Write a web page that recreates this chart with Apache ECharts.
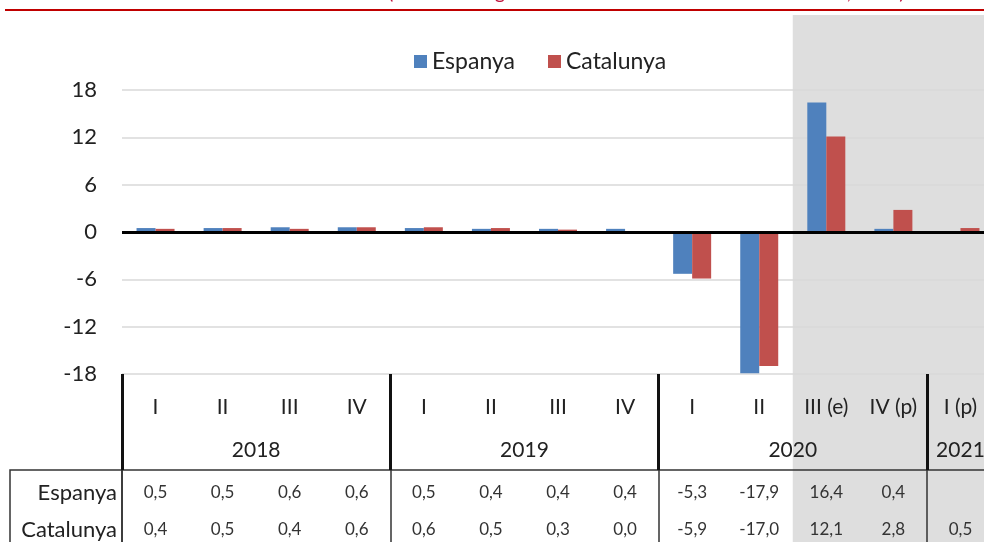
<!DOCTYPE html>
<html>
<head>
<meta charset="utf-8">
<script src="https://cdn.jsdelivr.net/npm/echarts@6/dist/echarts.min.js"></script>
<style>
  html, body { margin: 0; padding: 0; background: #fff; overflow: hidden; }
  #mycontainer { width: 1000px; height: 542px; }
</style>
</head>
<body>
<div id="mycontainer"></div>
<script>
// trimestres i anys
var quarters = ['I', 'II', 'III', 'IV', 'I', 'II', 'III', 'IV', 'I', 'II', 'III (e)', 'IV (p)', 'I (p)'];
var years = ['2018', '2019', '2020', '2021'];
var yearStart = [0, 4, 8, 12];   // primer trimestre de cada any
var yearLen = [4, 4, 4, 1];

// variació intertrimestral (%)
var espanya = [0.5, 0.5, 0.6, 0.6, 0.5, 0.4, 0.4, 0.4, -5.3, -17.9, 16.4, 0.4, null];
var catalunya = [0.4, 0.5, 0.4, 0.6, 0.6, 0.5, 0.3, 0.0, -5.9, -17.0, 12.1, 2.8, 0.5];

var firstEstimate = 10; // III (e): a partir d'aqui, zona ombrejada

var FONT = 'Lato, "Open Sans", sans-serif';

function fmt(v) {
    if (v === null || v === undefined) return '';
    return v.toFixed(1).replace('.', ',');
}

var yearCenters = yearStart.map(function (s, i) { return s + yearLen[i] / 2; });
var yearBounds = yearStart.concat([quarters.length]);

var dom = document.getElementById('mycontainer');
var chart = echarts.init(dom, null, { renderer: 'canvas' });

var option = {
    animation: false,
    textStyle: { fontFamily: FONT },
    title: {
        text: 'PIB. Taxa de variació intertrimestral (dades corregides d\'efectes estacionals i de calendari, en %)',
        left: 484,
        textAlign: 'center',
        top: -22,
        textStyle: { color: '#c0143c', fontSize: 20, fontWeight: 'normal', fontFamily: FONT }
    },
    legend: {
        left: 409,
        top: 45,
        itemWidth: 13,
        itemHeight: 13,
        itemGap: 33,
        icon: 'rect',
        textStyle: { fontSize: 23, color: '#222', fontFamily: FONT },
        data: ['Espanya', 'Catalunya']
    },
    grid: {
        left: 122,
        right: 6,
        top: 90,
        bottom: 168
    },
    yAxis: {
        type: 'value',
        min: -18,
        max: 18,
        interval: 6,
        axisLine: { show: false },
        axisTick: { show: false },
        axisLabel: { fontSize: 22, color: '#222', margin: 25 },
        splitLine: { lineStyle: { color: '#d9d9d9', width: 1.5 } }
    },
    xAxis: [
        {   // trimestres
            type: 'category',
            data: quarters,
            position: 'bottom',
            axisLine: { show: false, onZero: false },
            axisTick: { show: false },
            axisLabel: { fontSize: 21, color: '#222', margin: 23, interval: 0 }
        },
        {   // anys i separadors gruixuts
            type: 'value',
            min: 0,
            max: quarters.length,
            position: 'bottom',
            axisLine: { show: false, onZero: false },
            splitLine: { show: false },
            axisTick: {
                show: true,
                customValues: yearBounds,
                length: 96,
                lineStyle: { color: '#111', width: 3 }
            },
            axisLabel: {
                customValues: yearCenters,
                fontSize: 21,
                color: '#222',
                margin: 66,
                formatter: function (v) {
                    var i = yearCenters.indexOf(v);
                    return i >= 0 ? years[i] : '';
                }
            }
        },
        {   // linia superior de la taula i separadors fins
            type: 'value',
            min: 0,
            max: quarters.length,
            position: 'bottom',
            offset: 96,
            axisLine: { show: true, onZero: false, lineStyle: { color: '#333', width: 1.5 } },
            splitLine: { show: false },
            axisTick: {
                show: true,
                customValues: yearBounds,
                length: 80,
                lineStyle: { color: '#333', width: 1.5 }
            },
            axisLabel: { show: false }
        },
        {   // fila Espanya
            type: 'category',
            data: espanya.map(fmt),
            position: 'bottom',
            offset: 119,
            name: 'Espanya',
            nameLocation: 'start',
            nameGap: 5,
            nameTextStyle: { fontSize: 22, color: '#222', fontFamily: FONT },
            axisLine: { show: false, onZero: false },
            axisTick: { show: false },
            axisLabel: { fontSize: 17, color: '#333', margin: 0, verticalAlign: 'middle', interval: 0 }
        },
        {   // fila Catalunya
            type: 'category',
            data: catalunya.map(fmt),
            position: 'bottom',
            offset: 156,
            name: 'Catalunya',
            nameLocation: 'start',
            nameGap: 5,
            nameTextStyle: { fontSize: 22, color: '#222', fontFamily: FONT },
            axisLine: { show: false, onZero: false },
            axisTick: { show: false },
            axisLabel: { fontSize: 17, color: '#333', margin: 0, verticalAlign: 'middle', interval: 0 }
        }
    ],
    series: [
        {
            name: 'Espanya',
            type: 'bar',
            xAxisIndex: 0,
            data: espanya,
            barWidth: 19,
            barGap: '0%',
            itemStyle: { color: '#4f81bd' },
            markLine: {
                silent: true,
                symbol: 'none',
                label: { show: false },
                lineStyle: { color: '#000', width: 3, type: 'solid' },
                data: [{ yAxis: 0 }]
            }
        },
        {
            name: 'Catalunya',
            type: 'bar',
            xAxisIndex: 0,
            data: catalunya,
            barWidth: 19,
            barGap: '0%',
            itemStyle: { color: '#c0504d' }
        }
    ]
};

chart.setOption(option);

// zona ombrejada (estimacions i previsions) i marc de la taula
var xShade = chart.convertToPixel({ xAxisIndex: 1 }, firstEstimate);
var xGrid = chart.convertToPixel({ xAxisIndex: 1 }, 0);
chart.setOption({
    graphic: [
        {
            type: 'rect',
            z: -10,
            silent: true,
            shape: { x: xShade, y: 15, width: 1000 - xShade, height: 560 },
            style: { fill: '#dedede' }
        },
        {
            type: 'line',
            silent: true,
            shape: { x1: 5, y1: 10, x2: 1000, y2: 10 },
            style: { stroke: '#c00000', lineWidth: 2 }
        },
        {
            type: 'rect',
            silent: true,
            shape: { x: 10, y: 470, width: xGrid - 10, height: 90 },
            style: { fill: null, stroke: '#333', lineWidth: 1.5 }
        }
    ]
});
</script>
</body>
</html>
